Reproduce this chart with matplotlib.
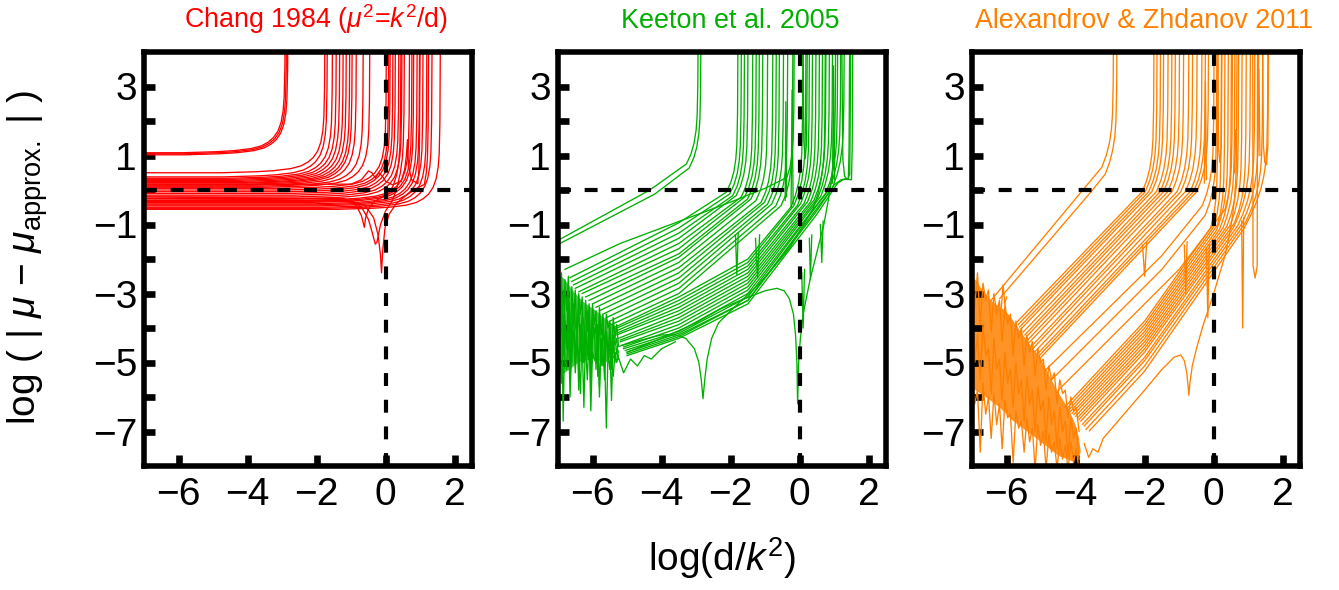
import numpy as np
import matplotlib.pyplot as plt
from matplotlib.ticker import FixedLocator

plt.rcParams['font.family'] = ['Liberation Sans', 'DejaVu Sans']
plt.rcParams['mathtext.fontset'] = 'custom'
plt.rcParams['mathtext.rm'] = 'Liberation Sans'
plt.rcParams['mathtext.it'] = 'Liberation Sans:italic'
plt.rcParams['mathtext.bf'] = 'Liberation Sans:bold'

RED = '#ff0000'
GREEN = '#00b000'
ORANGE = '#ff8000'

titles = [r'Chang 1984 ($\mu^2$=$k^2$/d)', 'Keeton et al. 2005', 'Alexandrov & Zhdanov 2011']
x_ticks = [-6, -4, -2, 0, 2]
y_ticks = [-7, -5, -3, -1, 1, 3]
y_minor = [-6, -4, -2, 0, 2]

# shape of a branch running into its pole (offset from the pole, rise)
knee_dx = np.array([-3.0, -2.0, -1.5, -1.0, -0.7, -0.5, -0.35, -0.22, -0.13, -0.07, -0.04, -0.02, 0.0])
knee_dy = np.array([0.0, 0.03, 0.06, 0.12, 0.2, 0.31, 0.44, 0.63, 0.88, 1.22, 1.62, 2.5, 6.0])

# --- Chang 1984: flat plateau, then blow-up at the pole
chang_level = [1.08, 1.05, 1.02, 0.50, 0.38, 0.34, 0.31, 0.28, 0.25, 0.22, 0.20, 0.17, 0.14,
               0.11, 0.08, 0.05, 0.0, -0.05, -0.10, -0.15, -0.20, -0.25, -0.30, -0.33, -0.36,
               -0.40, -0.43, -0.46, -0.50, -0.53, -0.56]
chang_pole = [-2.90, -2.86, -2.82, -1.75, -1.68, -1.53, -1.42, -1.32, -1.22, -1.13, -1.03, -0.96,
              -0.84, -0.64, -0.45, 0.03, 0.10, 0.14, 0.22, 0.29, 0.39, 0.48, 0.70, 0.77, 0.82,
              0.92, 0.99, 1.09, 1.20, 1.35, 1.59]
chang_extra = [
    ([-7.0, -1.0, -0.6, -0.35, -0.22, -0.15, -0.12, -0.09, -0.02, 0.1, 0.3, 0.6, 0.9, 1.1],
     [-0.3, -0.32, -0.45, -0.8, -1.3, -1.9, -2.4, -1.8, -1.1, -0.7, -0.4, -0.15, 0.05, 0.15], 1.25),
    ([-7.0, -1.2, -0.85, -0.7, -0.62, -0.58, -0.5, -0.35, -0.1, 0.1],
     [-0.2, -0.25, -0.45, -0.75, -1.08, -0.8, -0.55, -0.35, -0.2, -0.1], 0.45),
    ([-7.0, -1.0, -0.7, -0.5, -0.4, -0.3, -0.25, -0.15, 0.0, 0.2],
     [-0.25, -0.3, -0.5, -0.85, -1.2, -1.57, -1.5, -1.0, -0.6, -0.3], 0.55),
    ([-7.0, -1.0, -0.7, -0.5, -0.4, -0.3, -0.2, -0.1, 0.0, 0.2, 0.45, 0.55, 0.6, 0.63, 0.66, 0.75, 0.9],
     [0.15, 0.17, 0.3, 0.55, 0.5, 0.35, 0.5, 0.4, 0.25, 0.15, 0.25, 0.6, 1.0, 1.46, 0.7, 0.3, 0.2], 1.0),
]

# --- Keeton et al. 2005
keeton_x = [
    [-7.0, -4.34, -3.33], [-7.0, -4.2, -3.25],
    [-6.65, -3.5, -2.18], [-6.6, -3.5, -2.08], [-6.55, -3.5, -1.99], [-6.5, -3.5, -1.89],
    [-6.4, -3.5, -1.75], [-6.3, -3.5, -1.65], [-6.2, -3.5, -1.56], [-6.1, -3.5, -1.46],
    [-6.0, -3.5, -1.32], [-5.9, -3.5, -1.17], [-5.8, -3.5, -1.07], [-5.7, -3.5, -0.98],
    [-5.6, -3.5, -0.86], [-5.5, -3.5, -0.74], [-5.45, -3.5, -0.59],
    [-5.4, -3.5, -1.5, -0.30], [-5.4, -3.5, -1.5, -0.21], [-5.35, -3.5, -1.5, -0.11],
    [-5.3, -3.5, -1.5, -0.02], [-5.3, -3.5, -1.5, 0.08], [-5.25, -3.5, -1.5, 0.18],
    [-5.2, -3.5, -1.5, 0.27], [-5.2, -3.5, -1.5, 0.37], [-5.15, -3.5, -1.5, 0.47],
    [-5.1, -3.5, -1.5, 0.56], [-5.1, -3.5, -1.5, 0.71], [-5.05, -3.5, -1.5, 0.80],
    [-5.0, -3.5, -1.5, 0.90],
    [-5.0, -3.5, -1.5, 0.5, 1.0, 1.2, 1.38], [-5.0, -3.5, -1.5, 0.5, 1.1, 1.3, 1.47],
]
keeton_y = [
    [-1.46, 0.0, 0.72], [-1.58, -0.12, 0.6],
    [-2.54, -0.95, -0.1], [-2.65, -1.1, -0.15], [-2.75, -1.25, -0.2], [-2.85, -1.4, -0.2],
    [-2.95, -1.55, -0.25], [-3.0, -1.7, -0.25], [-3.1, -1.85, -0.3], [-3.2, -1.95, -0.3],
    [-3.3, -2.1, -0.35], [-3.4, -2.25, -0.4], [-3.5, -2.4, -0.4], [-3.6, -2.55, -0.45],
    [-3.7, -2.7, -0.45], [-3.8, -2.85, -0.5], [-3.9, -3.0, -0.5],
    [-4.0, -3.1, -2.0, -0.55], [-4.05, -3.2, -2.1, -0.5], [-4.1, -3.3, -2.2, -0.5],
    [-4.15, -3.4, -2.3, -0.45], [-4.2, -3.5, -2.4, -0.45], [-4.3, -3.6, -2.5, -0.4],
    [-4.35, -3.7, -2.6, -0.4], [-4.4, -3.8, -2.7, -0.35], [-4.5, -3.9, -2.8, -0.3],
    [-4.55, -4.0, -2.9, -0.25], [-4.6, -4.1, -3.0, -0.15], [-4.65, -4.15, -3.1, -0.05],
    [-4.7, -4.2, -3.2, 0.0],
    [-4.75, -4.25, -3.2, -0.6, 0.15, 0.3, 0.32], [-4.8, -4.3, -3.3, -0.7, 0.2, 0.32, 0.3],
]
keeton_pole = [-2.93, -2.85, -1.78, -1.68, -1.59, -1.49, -1.35, -1.25, -1.16, -1.06, -0.92,
               -0.77, -0.67, -0.58, -0.46, -0.34, -0.19, 0.10, 0.19, 0.29, 0.38, 0.48, 0.58,
               0.67, 0.77, 0.87, 0.96, 1.11, 1.20, 1.30, 1.45, 1.54]
keeton_extra = [
    ([-5.3, -4.6, -4.0, -3.6, -3.3, -3.05, -2.92, -2.85, -2.8, -2.75, -2.68, -2.55, -2.35, -2.0, -1.2, -0.3, 0.35],
     [-4.55, -4.35, -4.2, -4.2, -4.3, -4.6, -5.0, -5.5, -6.05, -5.5, -4.9, -4.3, -3.85, -3.5, -2.75, -1.7, -0.6], 0.75),
    ([-5.0, -4.0, -3.0, -2.3, -1.6, -1.0, -0.66, -0.45, -0.3, -0.18, -0.12, -0.08, -0.06, -0.03, 0.02, 0.1, 0.3, 0.6],
     [-4.7, -4.3, -3.85, -3.45, -3.15, -2.92, -2.85, -2.92, -3.15, -3.6, -4.2, -5.0, -6.2, -5.0, -4.3, -3.6, -2.6, -1.4], 1.05),
    ([-6.8, -5.2, -3.6, -2.0, -1.0, -0.5], [-2.3, -1.55, -0.95, -0.35, 0.05, 0.3], -0.15),
    ([-5.5, -5.3, -5.1, -4.9, -4.7, -4.5, -4.3, -4.0, -3.6],
     [-5.0, -4.7, -5.3, -4.9, -5.1, -4.8, -4.9, -4.6, -4.4], None),
    ([-1.86, -1.82, -1.78], [-1.3, -2.45, -1.25], None),
    ([-1.28, -1.22, -1.16], [-1.4, -2.55, -1.3], None),
    ([0.06, 0.1, 0.14], [-2.4, -4.0, -2.3], None),
    ([0.28, 0.31, 0.35], [-1.4, -2.6, -1.3], None),
    ([0.6, 0.64, 0.68], [-1.0, -2.1, -0.9], None),
    ([-0.42, -0.4, -0.38], [-0.3, 2.56, -0.2], None),
    ([-0.25, -0.22, -0.19], [-0.5, 2.9, -0.4], None),
    ([0.95, 0.98, 1.01], [0.2, 3.6, 0.3], None),
    ([0.1, 0.12, 0.16, 0.2, 0.22], [4.2, 1.4, 0.9, 1.4, 4.2], None),
    ([1.22, 1.25, 1.3, 1.38, 1.45, 1.48], [4.2, 0.9, 0.4, 0.3, 0.45, 4.2], None),
]
keeton_core_x = [-7.0, -6.8, -6.5, -6.2, -5.9, -5.6, -5.35, -5.3, -5.6, -6.0, -6.4, -6.8, -7.0]
keeton_core_y = [-2.4, -2.6, -3.0, -3.3, -3.5, -3.75, -3.95, -4.6, -5.0, -4.9, -5.0, -5.3, -5.4]
keeton_noise = [
    [-2.2, -3.9, -2.4, -4.8, -2.6, -3.5, -2.5, -5.2, -2.8, -3.9, -2.9, -4.4, -3.0, -3.6, -3.1, -5.0, -3.2, -4.1,
     -3.3, -4.6, -3.3, -3.9, -3.5, -5.4, -3.4, -4.2, -3.6, -4.8, -3.6, -4.0, -3.8, -4.9, -3.7, -4.3, -3.9, -4.5],
    [-3.4, -5.1, -3.0, -6.7, -3.8, -4.6, -3.2, -5.5, -4.0, -3.6, -4.9, -3.8, -5.8, -3.9, -4.4, -6.3, -4.1, -4.8,
     -3.7, -5.6, -4.2, -4.0, -5.2, -3.9, -6.0, -4.3, -4.6, -5.5, -4.1, -4.9, -4.4, -6.1, -4.3, -5.0, -4.6, -4.7],
    [-4.0, -4.6, -5.6, -3.6, -4.9, -5.2, -3.9, -6.0, -4.5, -4.1, -5.3, -4.4, -4.8, -5.9, -4.0, -5.0, -4.6, -5.5,
     -4.2, -6.4, -4.7, -4.9, -5.0, -4.4, -5.7, -4.5, -5.1, -4.8, -6.9, -4.6, -5.2, -4.9, -5.4, -4.7, -5.0, -4.8],
    [-2.6, -3.3, -4.2, -2.9, -3.8, -4.5, -3.1, -3.7, -5.0, -3.3, -3.9, -4.2, -3.4, -4.7, -3.6, -3.9, -4.4, -3.5,
     -4.1, -5.3, -3.7, -4.3, -3.9, -4.6, -3.8, -5.1, -4.0, -4.4, -4.1, -4.7, -4.0, -5.2, -4.2, -4.5, -4.3, -4.9],
]

# --- Alexandrov & Zhdanov 2011
alex_x = [
    [-6.45, -3.79, -3.29], [-6.2, -3.55, -3.19],
    [-5.70, -2.12], [-5.66, -2.03], [-5.62, -1.93], [-5.58, -1.84], [-5.52, -1.71],
    [-5.47, -1.60], [-5.43, -1.50], [-5.38, -1.38], [-5.33, -1.26], [-5.26, -1.11],
    [-5.22, -1.00], [-5.16, -0.87], [-5.10, -0.73], [-5.06, -0.63], [-5.02, -0.54],
    [-4.30, -2.0, -0.14], [-4.25, -2.0, -0.07], [-4.20, -2.0, 0.00], [-4.15, -2.0, 0.08],
    [-4.10, -2.0, 0.15], [-4.05, -2.0, 0.22], [-4.00, -2.0, 0.30], [-3.95, -2.0, 0.37],
    [-3.90, -2.0, 0.45], [-3.85, -2.0, 0.52], [-3.80, -2.0, 0.60], [-3.75, -2.0, 0.68],
    [-3.70, -2.0, 0.76], [-3.60, -2.0, 0.84],
]
alex_y = [
    [-3.2, 0.0, 0.6], [-3.15, -0.05, 0.4],
    [-3.83, -0.1], [-3.90, -0.1], [-3.97, -0.1], [-4.03, -0.1], [-4.12, -0.1],
    [-4.20, -0.1], [-4.26, -0.1], [-4.34, -0.1], [-4.41, -0.1], [-4.51, -0.1],
    [-4.58, -0.1], [-4.67, -0.1], [-4.75, -0.1], [-4.81, -0.1], [-4.87, -0.1],
    [-6.28, -3.80, -1.17], [-6.33, -3.90, -1.17], [-6.38, -4.00, -1.17], [-6.42, -4.10, -1.17],
    [-6.47, -4.20, -1.17], [-6.51, -4.30, -1.17], [-6.56, -4.40, -1.17], [-6.61, -4.50, -1.17],
    [-6.65, -4.60, -1.17], [-6.70, -4.70, -1.17], [-6.79, -4.85, -1.17], [-6.84, -4.95, -1.17],
    [-6.94, -5.10, -1.17], [-6.98, -5.25, -1.17],
]
alex_pole = [-2.89, -2.79, -1.72, -1.63, -1.53, -1.44, -1.31, -1.20, -1.10, -0.98, -0.86, -0.71,
             -0.60, -0.47, -0.33, -0.23, -0.14, 0.13, 0.23, 0.33, 0.43, 0.52, 0.62, 0.73, 0.83,
             0.95, 1.07, 1.20, 1.31, 1.43, 1.58]
alex_extra = [
    ([-3.75, -3.62, -3.5, -3.35, -3.2, -2.6, -2.0, -1.5, -1.15, -0.95, -0.85, -0.78, -0.74, -0.72, -0.69,
      -0.62, -0.5, -0.3, 0.0, 0.3],
     [-7.35, -7.75, -7.5, -7.6, -7.2, -6.5, -5.8, -5.2, -4.85, -4.78, -4.95, -5.3, -5.7, -5.95, -5.6,
      -5.1, -4.6, -3.9, -3.0, -2.0], 0.68),
    ([-4.9, -1.5, -0.45], [-5.25, -1.9, -0.6], 0.02),
    ([-4.7, -1.5, -0.3], [-5.5, -2.3, -0.8], 0.1),
    ([-4.5, -1.0, 0.3], [-5.8, -2.3, -0.6], 0.55),
    ([-2.06, -2.0, -1.94], [-1.6, -2.5, -1.5], None),
    ([-0.85, -0.81, -0.77], [-1.6, -3.0, -1.5], None),
    ([-0.21, -0.17, -0.13], [-1.7, -3.7, -1.6], None),
    ([0.81, 0.84, 0.87], [-0.9, -4.0, -0.8], None),
    ([1.13, 1.14, 1.2, 1.26, 1.27], [4.2, -2.2, -2.55, -2.2, 4.2], None),
    ([-0.27, -0.24, -0.21], [0.2, 3.15, 0.3], None),
    ([1.28, 1.31, 1.34], [1.0, 3.5, 1.0], None),
    ([0.6, 0.64, 0.68], [0.5, 1.75, 0.5], None),
    ([0.12, 0.14, 0.18, 0.22, 0.24], [4.2, 1.2, 0.8, 1.3, 4.2], None),
    ([1.42, 1.44, 1.48, 1.53, 1.57, 1.59], [4.2, 1.3, 0.8, 0.73, 1.3, 4.2], None),
    ([-6.15, -6.1, -6.05, -6.0], [-3.4, -2.75, -3.3, -3.1], None),
]
alex_core_x = [-7.05, -6.9, -6.7, -6.4, -6.1, -5.9, -5.6, -5.3, -5.0, -4.7, -4.45, -4.2, -4.0, -3.9,
               -3.85, -4.0, -4.5, -5.0, -5.4, -5.8, -6.2, -6.6, -6.9, -7.05]
alex_core_y = [-2.6, -2.6, -2.9, -3.25, -3.45, -3.65, -4.1, -4.5, -4.9, -5.5, -5.95, -6.35, -6.8, -7.2,
               -7.6, -7.9, -7.7, -7.3, -7.0, -6.7, -6.3, -6.0, -5.8, -5.8]
alex_noise = [
    [-2.3, -3.4, -2.4, -3.9, -2.7, -3.2, -2.9, -4.1, -3.0, -3.6, -3.2, -4.4, -3.3, -3.9, -3.6, -4.8, -3.8, -4.3,
     -4.0, -5.1, -4.2, -4.7, -4.4, -5.4, -4.6, -5.0, -4.9, -5.8, -5.1, -5.5, -5.3, -6.2, -5.5, -5.9, -5.8, -6.6,
     -6.0, -6.4, -6.3, -7.0],
    [-5.4, -6.2, -5.8, -7.6, -5.6, -6.5, -6.0, -7.2, -5.9, -6.8, -6.2, -7.5, -6.1, -6.6, -6.5, -7.9, -6.4, -6.9,
     -6.7, -7.6, -6.6, -7.3, -6.9, -8.1, -6.8, -7.4, -7.0, -8.1, -7.1, -7.6, -7.3, -8.1, -7.2, -7.8, -7.4, -8.1,
     -7.3, -7.9, -7.5, -8.1],
    [-3.6, -5.0, -4.2, -5.5, -3.9, -4.8, -4.6, -5.9, -4.3, -5.2, -4.9, -6.1, -4.7, -5.6, -5.2, -6.3, -5.0, -5.9,
     -5.5, -6.7, -5.4, -6.2, -5.8, -7.0, -5.7, -6.4, -6.1, -7.3, -6.0, -6.8, -6.4, -7.5, -6.3, -7.0, -6.7, -7.7,
     -6.6, -7.2, -6.9, -7.8],
]


def branch(xs, ys, pole):
    """Polyline through the read vertices, continued into its pole."""
    xs, ys = list(xs), list(ys)
    if pole is None:
        return xs, ys
    slope = 0.0 if len(xs) < 2 else (ys[-1] - ys[-2]) / (xs[-1] - xs[-2])
    kx = pole + knee_dx
    keep = kx > xs[-1]
    kx, kd = kx[keep], knee_dy[keep]
    ky = ys[-1] + slope * (kx - xs[-1]) + kd - kd[0]
    return xs + list(kx), ys + list(ky)


def style_axes(ax, title, color):
    ax.set_xlim(-7, 2.5)
    ax.set_ylim(-8, 4)
    ax.xaxis.set_major_locator(FixedLocator(x_ticks))
    ax.yaxis.set_major_locator(FixedLocator(y_ticks))
    ax.yaxis.set_minor_locator(FixedLocator(y_minor))
    ax.tick_params(which='both', direction='in', length=8, width=4.8,
                   top=False, right=False, labelsize=28)
    ax.tick_params(axis='x', pad=8)
    ax.tick_params(axis='y', pad=5)
    for s in ax.spines.values():
        s.set_linewidth(4)
    dash = (0, (3.1, 3.3))
    ax.axhline(0, color='k', lw=3, ls=dash, zorder=5)
    ax.axvline(0, color='k', lw=3, ls=dash, zorder=5)
    ax.set_title(title, color=color, fontsize=19.4, pad=17, x=0.525)


fig = plt.figure(figsize=(13.39, 5.9), dpi=100)
W, H = 1339, 590
axes = [fig.add_axes([left / W, 124 / H, 328 / W, 414 / H]) for left in (144, 558, 972)]
lw = 0.95

# Chang
ax = axes[0]
for level, pole in zip(chang_level, chang_pole):
    ax.plot(*branch([-7.2], [level], pole), color=RED, lw=lw)
for xs, ys, pole in chang_extra:
    ax.plot(*branch(xs, ys, pole), color=RED, lw=lw)
style_axes(ax, titles[0], RED)

# Keeton
ax = axes[1]
ax.fill(keeton_core_x, keeton_core_y, color=GREEN, alpha=0.7, lw=0)
kx_grid = np.linspace(-7.0, -5.25, len(keeton_noise[0]))
for ys in keeton_noise:
    ax.plot(kx_grid, ys, color=GREEN, lw=lw)
for xs, ys, pole in zip(keeton_x, keeton_y, keeton_pole):
    ax.plot(*branch(xs, ys, pole), color=GREEN, lw=lw)
for xs, ys, pole in keeton_extra:
    ax.plot(*branch(xs, ys, pole), color=GREEN, lw=lw)
style_axes(ax, titles[1], GREEN)

# Alexandrov & Zhdanov
ax = axes[2]
ax.fill(alex_core_x, alex_core_y, color=ORANGE, alpha=0.85, lw=0)
ax_grid = np.linspace(-7.0, -3.9, len(alex_noise[0]))
for ys in alex_noise:
    ax.plot(ax_grid, ys, color=ORANGE, lw=lw)
for xs, ys, pole in zip(alex_x, alex_y, alex_pole):
    ax.plot(*branch(xs, ys, pole), color=ORANGE, lw=lw)
for xs, ys, pole in alex_extra:
    ax.plot(*branch(xs, ys, pole), color=ORANGE, lw=lw)
style_axes(ax, titles[2], ORANGE)

fig.text(0.0205, 0.5627, r'log ( | $\mu$ − $\mu_{\mathrm{approx.}}$ | )',
         rotation=90, ha='center', va='center', fontsize=28)
fig.text(0.539, 0.032, r'log(d/$k^2$)', ha='center', va='baseline', fontsize=28)

fig.savefig('out.png', dpi=100)
